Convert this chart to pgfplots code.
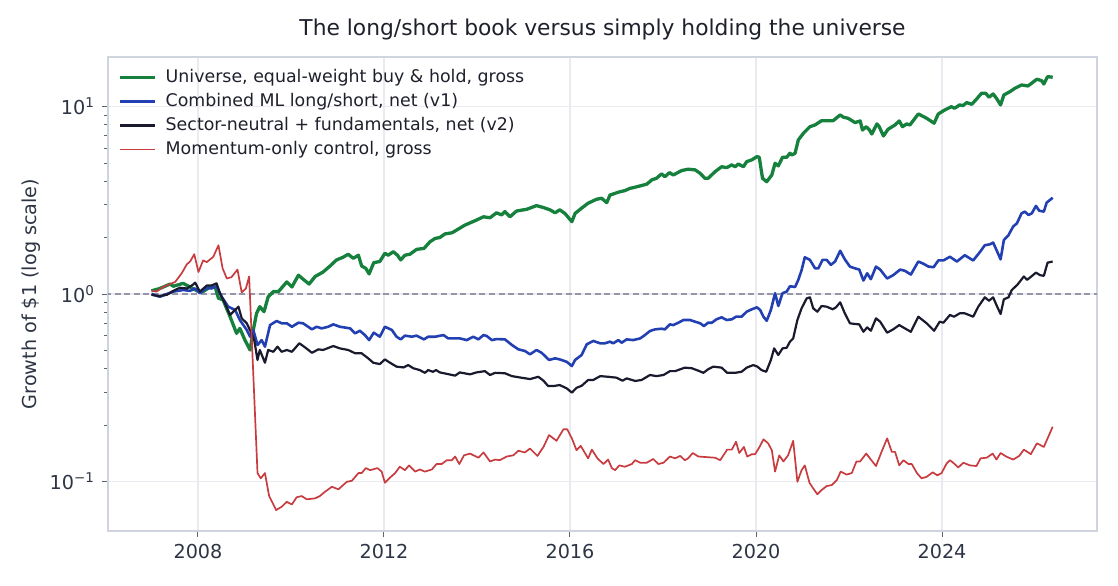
\documentclass[border=0pt]{standalone}
\usepackage{fontspec}
\setmainfont{DejaVu Sans}
\usepackage{pgfplots}
\pgfplotsset{compat=1.18}

\definecolor{cUniv}{RGB}{22,128,61}
\definecolor{cVone}{RGB}{35,64,178}
\definecolor{cVtwo}{RGB}{26,26,46}
\definecolor{cMom}{RGB}{200,60,64}
\definecolor{cGrid}{RGB}{234,234,240}
\definecolor{cSpine}{RGB}{208,212,222}
\definecolor{cTick}{RGB}{95,100,115}
\definecolor{cText}{RGB}{45,52,68}
\definecolor{cRef}{RGB}{150,150,170}

\begin{document}
\begin{tikzpicture}
\useasboundingbox (0,0) rectangle (559pt,292.5pt);
\begin{axis}[
  at={(54pt,27pt)}, anchor=south west,
  scale only axis, width=494.5pt, height=237pt,
  xmin=2006.065, xmax=2027.333,
  ymode=log, ymin=0.0545, ymax=18.35,
  xtick={2008,2012,2016,2020,2024},
  xticklabels={2008,2012,2016,2020,2024},
  ytick={0.1,1,10},
  yticklabels={10\textsuperscript{−1},10\textsuperscript{0},10\textsuperscript{1}},
  tick pos=left, tick align=outside,
  major tick length=3pt, minor tick length=2pt,
  every tick/.style={draw=cTick, line width=0.5pt},
  minor tick style={draw=cTick, line width=0.4pt},
  axis line style={draw=cSpine, line width=0.6pt},
  grid=major,
  major grid style={draw=cGrid, line width=0.6pt},
  tick label style={font=\fontsize{9.6}{11}\selectfont, text=cText},
  every axis title shift=0pt,
  title={The long/short book versus simply holding the universe},
  title style={font=\fontsize{10.9}{13}\selectfont, text={rgb,255:red,30;green,32;blue,44},
    at={(axis description cs:0.5,1.057)}, anchor=center},
  ylabel={Growth of \$1 (log scale)},
  every axis y label/.style={at={(axis description cs:-0.0779,0.5)}, rotate=90, anchor=center,
    font=\fontsize{9.6}{11}\selectfont, text=cText},
  legend cell align=left,
  legend image code/.code={\draw[#1] (0pt,0pt) -- (17.5pt,0pt);},
  legend style={at={(axis description cs:0,1)}, anchor=north west,
    xshift=5pt, yshift=-5.9pt, draw=none, fill=none, inner sep=0pt,
    column sep=4.5pt, row sep=3.7pt,
    font=\fontsize{8.7}{10}\selectfont, text={rgb,255:red,30;green,32;blue,44},
    nodes={inner sep=0pt, text height=6.5pt, text depth=1.8pt}},
]
% break-even reference
\addplot[forget plot, draw=cRef, line width=0.6pt, dash pattern=on 3pt off 1.8pt]
  coordinates {(2006.0,1) (2027.4,1)};

% equal-weight universe, buy and hold
\addplot[draw=cUniv, line width=1.65pt, line join=round] coordinates {
(2007.00,1.04) (2007.18,1.07) (2007.40,1.13) (2007.47,1.10) (2007.68,1.14) (2007.83,1.09) (2008.01,1.03) (2008.11,1.03) (2008.26,1.09) (2008.37,1.09) (2008.44,0.95) (2008.54,0.93) (2008.69,0.757) (2008.83,0.617) (2008.90,0.656) (2009.01,0.568) (2009.12,0.503) (2009.19,0.643) (2009.26,0.789) (2009.33,0.856) (2009.42,0.805) (2009.51,0.967) (2009.62,1.03) (2009.73,1.03) (2009.91,1.16) (2010.02,1.09) (2010.16,1.26) (2010.26,1.20) (2010.39,1.13) (2010.52,1.24) (2010.69,1.31) (2010.84,1.41) (2010.98,1.52) (2011.12,1.57) (2011.23,1.63) (2011.34,1.55) (2011.45,1.61) (2011.52,1.41) (2011.61,1.37) (2011.68,1.28) (2011.78,1.47) (2011.91,1.49) (2012.02,1.65) (2012.09,1.61) (2012.20,1.68) (2012.29,1.61) (2012.36,1.52) (2012.45,1.61) (2012.56,1.63) (2012.70,1.73) (2012.86,1.75) (2012.99,1.90) (2013.10,1.98) (2013.20,2.00) (2013.31,2.09) (2013.46,2.12) (2013.56,2.19) (2013.74,2.33) (2013.96,2.46) (2014.14,2.58) (2014.28,2.55) (2014.42,2.71) (2014.53,2.64) (2014.60,2.75) (2014.71,2.58) (2014.85,2.77) (2015.07,2.83) (2015.28,2.96) (2015.43,2.89) (2015.57,2.81) (2015.68,2.71) (2015.78,2.81) (2015.89,2.69) (2016.04,2.43) (2016.11,2.69) (2016.25,2.87) (2016.39,3.05) (2016.57,3.20) (2016.68,3.24) (2016.79,3.07) (2016.86,3.37) (2017.04,3.49) (2017.18,3.56) (2017.29,3.66) (2017.36,3.69) (2017.65,3.85) (2017.76,4.06) (2017.86,4.14) (2017.97,4.37) (2018.04,4.22) (2018.14,4.44) (2018.22,4.31) (2018.40,4.55) (2018.54,4.63) (2018.69,4.59) (2018.80,4.40) (2018.90,4.14) (2018.97,4.14) (2019.12,4.49) (2019.26,4.77) (2019.37,4.72) (2019.48,4.88) (2019.55,4.77) (2019.62,4.93) (2019.73,4.77) (2019.80,5.08) (2019.91,5.19) (2020.02,5.40) (2020.07,5.36) (2020.14,4.14) (2020.23,3.97) (2020.34,4.31) (2020.41,4.98) (2020.48,4.82) (2020.57,5.36) (2020.66,5.36) (2020.73,5.63) (2020.77,5.51) (2020.84,5.63) (2020.91,6.63) (2021.02,7.20) (2021.16,7.80) (2021.27,7.97) (2021.41,8.40) (2021.66,8.40) (2021.81,9.01) (2021.88,8.76) (2021.98,8.65) (2022.13,8.20) (2022.24,8.37) (2022.29,7.49) (2022.37,7.80) (2022.44,7.49) (2022.49,7.13) (2022.60,8.07) (2022.65,7.80) (2022.74,6.96) (2022.84,7.56) (2022.99,7.97) (2023.08,8.37) (2023.15,7.80) (2023.24,8.07) (2023.31,7.97) (2023.49,9.12) (2023.67,8.65) (2023.83,8.14) (2023.92,9.12) (2024.06,9.58) (2024.20,9.97) (2024.27,9.78) (2024.38,10.19) (2024.45,10.10) (2024.53,10.48) (2024.64,10.27) (2024.74,10.93) (2024.85,11.76) (2024.94,11.76) (2025.01,11.20) (2025.10,11.66) (2025.17,11.06) (2025.26,10.19) (2025.33,11.51) (2025.46,11.99) (2025.57,12.51) (2025.71,13.02) (2025.85,12.86) (2026.04,13.97) (2026.14,13.73) (2026.19,13.18) (2026.27,14.42) (2026.38,14.31)
};
\addlegendentry{Universe, equal-weight buy \& hold, gross}

% combined ML long/short (v1)
\addplot[draw=cVone, line width=1.3pt, line join=round] coordinates {
(2007.00,1.00) (2007.18,0.967) (2007.33,1.00) (2007.47,1.03) (2007.68,1.05) (2007.83,1.04) (2007.94,1.07) (2008.04,1.01) (2008.19,1.08) (2008.29,1.07) (2008.40,1.10) (2008.51,0.967) (2008.65,0.856) (2008.80,0.822) (2008.90,0.727) (2009.05,0.643) (2009.12,0.592) (2009.19,0.643) (2009.28,0.535) (2009.37,0.568) (2009.44,0.524) (2009.55,0.683) (2009.69,0.718) (2009.80,0.698) (2009.91,0.698) (2010.02,0.669) (2010.16,0.703) (2010.26,0.698) (2010.45,0.648) (2010.55,0.669) (2010.66,0.656) (2010.80,0.669) (2010.91,0.689) (2011.05,0.669) (2011.27,0.656) (2011.38,0.617) (2011.48,0.637) (2011.59,0.604) (2011.68,0.568) (2011.78,0.622) (2011.91,0.592) (2012.02,0.669) (2012.17,0.643) (2012.27,0.592) (2012.36,0.573) (2012.45,0.600) (2012.60,0.592) (2012.70,0.600) (2012.86,0.573) (2012.95,0.592) (2013.10,0.592) (2013.28,0.604) (2013.38,0.580) (2013.53,0.580) (2013.63,0.580) (2013.78,0.568) (2013.92,0.592) (2014.03,0.573) (2014.14,0.604) (2014.21,0.597) (2014.32,0.568) (2014.42,0.575) (2014.60,0.573) (2014.75,0.535) (2014.89,0.507) (2015.03,0.497) (2015.14,0.477) (2015.28,0.503) (2015.39,0.486) (2015.55,0.445) (2015.68,0.454) (2015.78,0.448) (2015.93,0.435) (2016.04,0.413) (2016.11,0.445) (2016.25,0.473) (2016.36,0.539) (2016.50,0.562) (2016.65,0.546) (2016.75,0.546) (2016.86,0.557) (2016.93,0.546) (2017.04,0.568) (2017.11,0.550) (2017.22,0.573) (2017.36,0.568) (2017.51,0.580) (2017.61,0.604) (2017.72,0.635) (2017.83,0.648) (2017.97,0.653) (2018.04,0.648) (2018.15,0.689) (2018.22,0.683) (2018.33,0.703) (2018.44,0.727) (2018.58,0.727) (2018.69,0.712) (2018.80,0.698) (2018.88,0.675) (2018.97,0.703) (2019.05,0.703) (2019.15,0.733) (2019.26,0.751) (2019.37,0.727) (2019.48,0.733) (2019.57,0.757) (2019.69,0.757) (2019.80,0.805) (2019.91,0.829) (2020.02,0.849) (2020.09,0.822) (2020.16,0.757) (2020.23,0.720) (2020.32,0.822) (2020.41,1.01) (2020.48,0.863) (2020.57,1.01) (2020.66,1.03) (2020.73,1.10) (2020.84,1.09) (2020.91,1.19) (2020.98,1.34) (2021.05,1.57) (2021.16,1.52) (2021.27,1.37) (2021.34,1.37) (2021.43,1.52) (2021.52,1.52) (2021.61,1.43) (2021.70,1.49) (2021.81,1.70) (2021.91,1.53) (2022.02,1.40) (2022.13,1.37) (2022.22,1.35) (2022.31,1.18) (2022.39,1.29) (2022.47,1.20) (2022.58,1.40) (2022.67,1.35) (2022.82,1.21) (2022.95,1.26) (2023.10,1.35) (2023.20,1.33) (2023.33,1.27) (2023.49,1.49) (2023.60,1.45) (2023.71,1.40) (2023.82,1.39) (2023.92,1.51) (2024.03,1.51) (2024.17,1.58) (2024.32,1.49) (2024.49,1.61) (2024.67,1.51) (2024.82,1.68) (2024.92,1.82) (2025.03,1.84) (2025.10,1.88) (2025.17,1.72) (2025.26,1.53) (2025.33,1.94) (2025.43,2.06) (2025.53,2.29) (2025.61,2.38) (2025.71,2.69) (2025.78,2.75) (2025.86,2.64) (2025.93,2.69) (2026.02,2.95) (2026.09,2.78) (2026.19,2.75) (2026.25,3.07) (2026.38,3.26)
};
\addlegendentry{Combined ML long/short, net (v1)}

% sector-neutral with fundamentals (v2)
\addplot[draw=cVtwo, line width=1.1pt, line join=round] coordinates {
(2007.00,0.99) (2007.15,0.975) (2007.33,0.99) (2007.47,1.04) (2007.61,1.08) (2007.76,1.07) (2007.89,1.12) (2007.94,1.15) (2008.04,1.03) (2008.19,1.11) (2008.29,1.11) (2008.40,1.14) (2008.47,1.01) (2008.58,0.892) (2008.69,0.773) (2008.76,0.805) (2008.87,0.856) (2008.94,0.742) (2009.05,0.698) (2009.15,0.617) (2009.21,0.568) (2009.28,0.445) (2009.33,0.503) (2009.44,0.430) (2009.51,0.503) (2009.62,0.492) (2009.71,0.524) (2009.80,0.492) (2009.91,0.503) (2010.02,0.492) (2010.18,0.546) (2010.30,0.520) (2010.45,0.486) (2010.59,0.507) (2010.69,0.503) (2010.91,0.528) (2011.05,0.513) (2011.23,0.503) (2011.38,0.483) (2011.52,0.483) (2011.66,0.454) (2011.77,0.430) (2011.91,0.423) (2012.02,0.448) (2012.13,0.430) (2012.27,0.410) (2012.42,0.406) (2012.52,0.418) (2012.63,0.402) (2012.77,0.393) (2012.88,0.380) (2012.95,0.393) (2013.05,0.385) (2013.12,0.393) (2013.20,0.382) (2013.38,0.374) (2013.53,0.367) (2013.63,0.382) (2013.85,0.373) (2013.99,0.382) (2014.17,0.388) (2014.28,0.370) (2014.39,0.380) (2014.60,0.378) (2014.75,0.365) (2014.92,0.359) (2015.14,0.352) (2015.32,0.362) (2015.43,0.345) (2015.53,0.323) (2015.64,0.323) (2015.78,0.327) (2015.93,0.314) (2016.04,0.298) (2016.14,0.316) (2016.25,0.324) (2016.39,0.348) (2016.50,0.348) (2016.65,0.365) (2016.82,0.362) (2017.00,0.358) (2017.13,0.345) (2017.22,0.355) (2017.40,0.344) (2017.54,0.348) (2017.72,0.370) (2017.86,0.365) (2018.01,0.370) (2018.15,0.388) (2018.26,0.388) (2018.47,0.405) (2018.62,0.402) (2018.76,0.390) (2018.87,0.380) (2018.97,0.397) (2019.08,0.410) (2019.26,0.405) (2019.38,0.380) (2019.55,0.380) (2019.69,0.385) (2019.80,0.405) (2019.94,0.418) (2020.03,0.410) (2020.12,0.393) (2020.22,0.385) (2020.32,0.445) (2020.39,0.513) (2020.48,0.473) (2020.57,0.513) (2020.66,0.517) (2020.73,0.557) (2020.80,0.580) (2020.89,0.727) (2020.98,0.839) (2021.09,0.948) (2021.16,0.960) (2021.23,0.839) (2021.32,0.805) (2021.41,0.863) (2021.52,0.856) (2021.65,0.829) (2021.72,0.849) (2021.81,0.903) (2021.91,0.789) (2022.02,0.698) (2022.13,0.692) (2022.22,0.689) (2022.31,0.629) (2022.39,0.664) (2022.47,0.637) (2022.58,0.742) (2022.67,0.712) (2022.82,0.622) (2022.95,0.648) (2023.08,0.683) (2023.20,0.656) (2023.33,0.629) (2023.49,0.757) (2023.67,0.698) (2023.83,0.637) (2023.95,0.712) (2024.03,0.703) (2024.17,0.773) (2024.26,0.757) (2024.38,0.789) (2024.49,0.789) (2024.67,0.757) (2024.78,0.856) (2024.92,0.960) (2025.01,0.921) (2025.10,0.960) (2025.17,0.874) (2025.26,0.782) (2025.33,0.937) (2025.43,0.960) (2025.50,1.05) (2025.62,1.12) (2025.76,1.24) (2025.83,1.19) (2025.92,1.24) (2026.02,1.30) (2026.11,1.26) (2026.19,1.25) (2026.27,1.47) (2026.38,1.49)
};
\addlegendentry{Sector-neutral + fundamentals, net (v2)}

% momentum-only control
\addplot[draw=cMom, line width=0.85pt, line join=round] coordinates {
(2007.00,1.04) (2007.11,1.03) (2007.25,1.09) (2007.40,1.13) (2007.51,1.16) (2007.65,1.29) (2007.76,1.44) (2007.83,1.49) (2007.92,1.63) (2008.01,1.31) (2008.11,1.51) (2008.19,1.48) (2008.33,1.58) (2008.44,1.82) (2008.53,1.37) (2008.62,1.21) (2008.72,1.23) (2008.85,1.35) (2008.94,1.02) (2009.03,1.07) (2009.10,1.24) (2009.28,0.111) (2009.35,0.104) (2009.44,0.111) (2009.53,0.0837) (2009.68,0.0705) (2009.80,0.0734) (2009.91,0.0780) (2010.02,0.0755) (2010.12,0.0824) (2010.23,0.0837) (2010.34,0.0804) (2010.52,0.0814) (2010.62,0.0837) (2010.73,0.0882) (2010.88,0.0938) (2011.02,0.0909) (2011.20,0.0997) (2011.31,0.101) (2011.45,0.111) (2011.52,0.111) (2011.61,0.118) (2011.70,0.115) (2011.86,0.118) (2011.95,0.113) (2012.02,0.0985) (2012.13,0.105) (2012.24,0.111) (2012.34,0.120) (2012.45,0.115) (2012.54,0.122) (2012.67,0.113) (2012.77,0.116) (2012.88,0.113) (2013.03,0.116) (2013.13,0.124) (2013.24,0.124) (2013.35,0.130) (2013.46,0.130) (2013.53,0.136) (2013.62,0.124) (2013.72,0.138) (2013.85,0.141) (2014.03,0.134) (2014.14,0.143) (2014.28,0.128) (2014.39,0.131) (2014.49,0.130) (2014.64,0.136) (2014.78,0.138) (2014.89,0.146) (2015.03,0.143) (2015.14,0.150) (2015.30,0.137) (2015.43,0.153) (2015.55,0.177) (2015.71,0.165) (2015.86,0.190) (2015.94,0.190) (2016.04,0.170) (2016.14,0.147) (2016.23,0.155) (2016.39,0.133) (2016.47,0.148) (2016.59,0.133) (2016.72,0.124) (2016.82,0.131) (2016.90,0.118) (2016.97,0.115) (2017.06,0.122) (2017.18,0.120) (2017.33,0.124) (2017.40,0.130) (2017.51,0.126) (2017.65,0.126) (2017.79,0.132) (2017.90,0.124) (2018.01,0.126) (2018.15,0.136) (2018.26,0.133) (2018.37,0.137) (2018.47,0.130) (2018.54,0.133) (2018.64,0.142) (2018.76,0.136) (2018.94,0.135) (2019.12,0.134) (2019.23,0.130) (2019.38,0.148) (2019.48,0.148) (2019.57,0.163) (2019.64,0.142) (2019.74,0.153) (2019.81,0.136) (2019.91,0.140) (2019.98,0.140) (2020.07,0.152) (2020.16,0.168) (2020.26,0.160) (2020.34,0.147) (2020.41,0.113) (2020.50,0.138) (2020.59,0.128) (2020.69,0.138) (2020.80,0.165) (2020.89,0.0997) (2020.98,0.115) (2021.05,0.122) (2021.15,0.0985) (2021.23,0.0920) (2021.32,0.0855) (2021.41,0.0901) (2021.52,0.0946) (2021.63,0.0958) (2021.74,0.102) (2021.82,0.113) (2021.95,0.109) (2022.06,0.111) (2022.16,0.128) (2022.24,0.128) (2022.37,0.141) (2022.47,0.131) (2022.58,0.121) (2022.70,0.144) (2022.82,0.170) (2022.92,0.144) (2022.99,0.144) (2023.08,0.122) (2023.17,0.130) (2023.28,0.124) (2023.35,0.124) (2023.46,0.111) (2023.56,0.104) (2023.67,0.106) (2023.80,0.112) (2023.90,0.108) (2023.99,0.111) (2024.10,0.125) (2024.17,0.130) (2024.24,0.126) (2024.35,0.119) (2024.46,0.126) (2024.60,0.122) (2024.74,0.121) (2024.83,0.133) (2024.96,0.134) (2025.09,0.141) (2025.17,0.131) (2025.26,0.142) (2025.38,0.136) (2025.53,0.131) (2025.66,0.137) (2025.76,0.148) (2025.91,0.140) (2026.04,0.160) (2026.19,0.153) (2026.38,0.196)
};
\addlegendentry{Momentum-only control, gross}
\end{axis}
\end{tikzpicture}
\end{document}
